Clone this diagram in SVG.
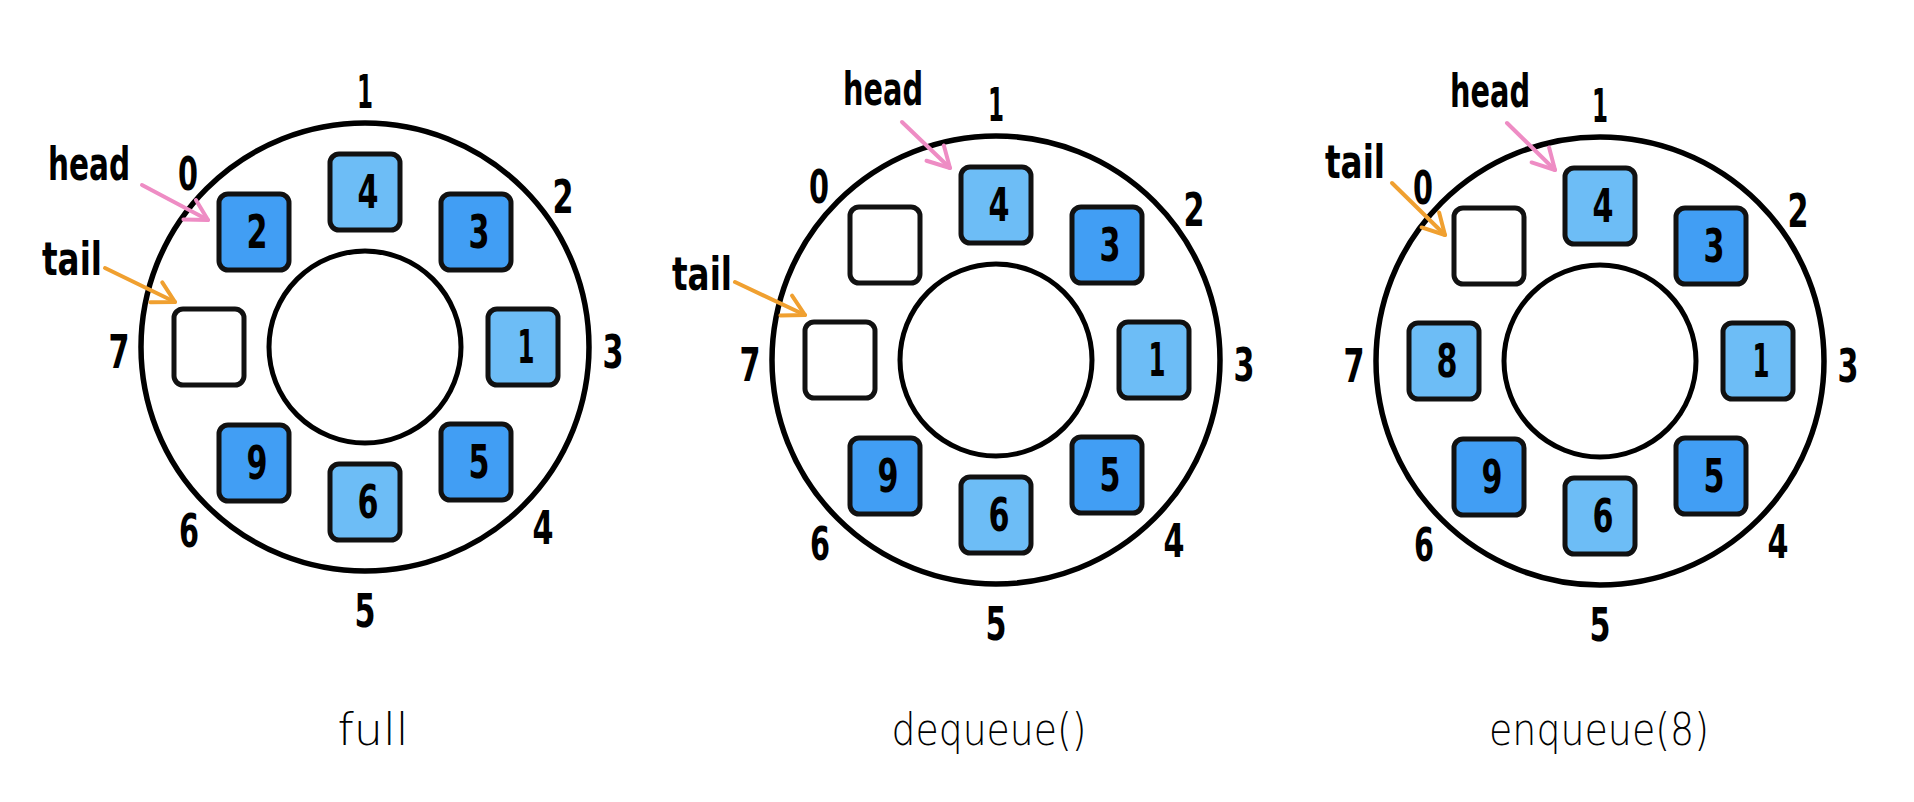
<svg xmlns="http://www.w3.org/2000/svg" width="1914" height="802" viewBox="0 0 1914 802">
<style>
  .ring{fill:none;stroke:#000;stroke-width:5.5}
  .hole{fill:#fff;stroke:#000;stroke-width:5}
  .box{stroke:#111;stroke-width:5}
  .dark{fill:#419ef4}
  .light{fill:#6dbdf6}
  .empty{fill:#fff}
  .val{font-family:"Liberation Sans Narrow","DejaVu Sans Condensed","Liberation Sans",sans-serif;font-weight:bold;font-size:46px;text-anchor:middle;fill:#000}
  .idx{font-family:"Liberation Sans Narrow","DejaVu Sans Condensed","Liberation Sans",sans-serif;font-weight:bold;font-size:46px;text-anchor:middle;fill:#000}
  .ptr{font-family:"Liberation Sans Narrow","DejaVu Sans Condensed","Liberation Sans",sans-serif;font-weight:bold;font-size:46px;fill:#000}
  .cap{font-family:"DejaVu Sans","Liberation Sans",sans-serif;font-weight:200;font-size:44px;text-anchor:middle;fill:#000}
  .head{fill:none;stroke:#ee8cc4;stroke-width:4;stroke-linecap:round}
  .tail{fill:none;stroke:#f0a030;stroke-width:4;stroke-linecap:round}
</style>
<defs>
  <marker id="mh" markerUnits="userSpaceOnUse" markerWidth="30" markerHeight="30" refX="0" refY="0" viewBox="-26 -15 30 30" orient="auto">
    <path d="M-20,-12 L0,0 L-22,11" fill="none" stroke="#ee8cc4" stroke-width="4" stroke-linecap="round" stroke-linejoin="round"/>
  </marker>
  <marker id="mt" markerUnits="userSpaceOnUse" markerWidth="30" markerHeight="30" refX="0" refY="0" viewBox="-26 -15 30 30" orient="auto">
    <path d="M-20,-12 L0,0 L-22,11" fill="none" stroke="#f0a030" stroke-width="4" stroke-linecap="round" stroke-linejoin="round"/>
  </marker>
</defs>
<rect width="1914" height="802" fill="#fff"/>

<!-- Panel 1: full -->
<g id="panel-full" transform="translate(365,347)">
  <circle class="ring" r="224"/>
  <circle class="hole" r="96"/>
  <g id="p1-slot0"><rect class="box dark" x="-146" y="-153" width="70" height="76" rx="9"/><text class="val" x="-108" y="-99" textLength="21" lengthAdjust="spacingAndGlyphs">2</text></g>
  <g id="p1-slot1"><rect class="box light" x="-35" y="-193" width="70" height="76" rx="9"/><text class="val" x="3" y="-139" textLength="21" lengthAdjust="spacingAndGlyphs">4</text></g>
  <g id="p1-slot2"><rect class="box dark" x="76" y="-153" width="70" height="76" rx="9"/><text class="val" x="114" y="-99" textLength="21" lengthAdjust="spacingAndGlyphs">3</text></g>
  <g id="p1-slot3"><rect class="box light" x="123" y="-38" width="70" height="76" rx="9"/><text class="val" x="161" y="16" textLength="17" lengthAdjust="spacingAndGlyphs">1</text></g>
  <g id="p1-slot4"><rect class="box dark" x="76" y="77" width="70" height="76" rx="9"/><text class="val" x="114" y="131" textLength="21" lengthAdjust="spacingAndGlyphs">5</text></g>
  <g id="p1-slot5"><rect class="box light" x="-35" y="117" width="70" height="76" rx="9"/><text class="val" x="3" y="171" textLength="21" lengthAdjust="spacingAndGlyphs">6</text></g>
  <g id="p1-slot6"><rect class="box dark" x="-146" y="78" width="70" height="76" rx="9"/><text class="val" x="-108" y="132" textLength="21" lengthAdjust="spacingAndGlyphs">9</text></g>
  <g id="p1-slot7"><rect class="box empty" x="-191" y="-38" width="70" height="76" rx="9"/></g>
  <g id="p1-index">
    <text class="idx" x="-177" y="-157" textLength="20" lengthAdjust="spacingAndGlyphs">0</text>
    <text class="idx" x="0" y="-239" textLength="16" lengthAdjust="spacingAndGlyphs">1</text>
    <text class="idx" x="198" y="-134" textLength="21" lengthAdjust="spacingAndGlyphs">2</text>
    <text class="idx" x="248" y="21" textLength="21" lengthAdjust="spacingAndGlyphs">3</text>
    <text class="idx" x="178" y="197" textLength="21" lengthAdjust="spacingAndGlyphs">4</text>
    <text class="idx" x="0" y="280" textLength="21" lengthAdjust="spacingAndGlyphs">5</text>
    <text class="idx" x="-176" y="200" textLength="20" lengthAdjust="spacingAndGlyphs">6</text>
    <text class="idx" x="-246" y="21" textLength="21" lengthAdjust="spacingAndGlyphs">7</text>
  </g>
</g>
<g id="p1-head-label"><text class="ptr" x="48" y="180" textLength="82" lengthAdjust="spacingAndGlyphs">head</text></g>
<g id="p1-tail-label"><text class="ptr" x="42" y="275" textLength="60" lengthAdjust="spacingAndGlyphs">tail</text></g>
<g id="p1-caption"><text class="cap" x="373" y="745" textLength="71" lengthAdjust="spacingAndGlyphs">full</text></g>

<!-- Panel 2: dequeue() -->
<g id="panel-dequeue" transform="translate(996,360)">
  <circle class="ring" r="224"/>
  <circle class="hole" r="96"/>
  <g id="p2-slot0"><rect class="box empty" x="-146" y="-153" width="70" height="76" rx="9"/></g>
  <g id="p2-slot1"><rect class="box light" x="-35" y="-193" width="70" height="76" rx="9"/><text class="val" x="3" y="-139" textLength="21" lengthAdjust="spacingAndGlyphs">4</text></g>
  <g id="p2-slot2"><rect class="box dark" x="76" y="-153" width="70" height="76" rx="9"/><text class="val" x="114" y="-99" textLength="21" lengthAdjust="spacingAndGlyphs">3</text></g>
  <g id="p2-slot3"><rect class="box light" x="123" y="-38" width="70" height="76" rx="9"/><text class="val" x="161" y="16" textLength="17" lengthAdjust="spacingAndGlyphs">1</text></g>
  <g id="p2-slot4"><rect class="box dark" x="76" y="77" width="70" height="76" rx="9"/><text class="val" x="114" y="131" textLength="21" lengthAdjust="spacingAndGlyphs">5</text></g>
  <g id="p2-slot5"><rect class="box light" x="-35" y="117" width="70" height="76" rx="9"/><text class="val" x="3" y="171" textLength="21" lengthAdjust="spacingAndGlyphs">6</text></g>
  <g id="p2-slot6"><rect class="box dark" x="-146" y="78" width="70" height="76" rx="9"/><text class="val" x="-108" y="132" textLength="21" lengthAdjust="spacingAndGlyphs">9</text></g>
  <g id="p2-slot7"><rect class="box empty" x="-191" y="-38" width="70" height="76" rx="9"/></g>
  <g id="p2-index">
    <text class="idx" x="-177" y="-157" textLength="20" lengthAdjust="spacingAndGlyphs">0</text>
    <text class="idx" x="0" y="-239" textLength="16" lengthAdjust="spacingAndGlyphs">1</text>
    <text class="idx" x="198" y="-134" textLength="21" lengthAdjust="spacingAndGlyphs">2</text>
    <text class="idx" x="248" y="21" textLength="21" lengthAdjust="spacingAndGlyphs">3</text>
    <text class="idx" x="178" y="197" textLength="21" lengthAdjust="spacingAndGlyphs">4</text>
    <text class="idx" x="0" y="280" textLength="21" lengthAdjust="spacingAndGlyphs">5</text>
    <text class="idx" x="-176" y="200" textLength="20" lengthAdjust="spacingAndGlyphs">6</text>
    <text class="idx" x="-246" y="21" textLength="21" lengthAdjust="spacingAndGlyphs">7</text>
  </g>
</g>
<g id="p2-head-label"><text class="ptr" x="843" y="105" textLength="80" lengthAdjust="spacingAndGlyphs">head</text></g>
<g id="p2-tail-label"><text class="ptr" x="672" y="290" textLength="60" lengthAdjust="spacingAndGlyphs">tail</text></g>
<g id="p2-caption"><text class="cap" x="989" y="745" textLength="195" lengthAdjust="spacingAndGlyphs">dequeue()</text></g>

<!-- Panel 3: enqueue(8) -->
<g id="panel-enqueue" transform="translate(1600,361)">
  <circle class="ring" r="224"/>
  <circle class="hole" r="96"/>
  <g id="p3-slot0"><rect class="box empty" x="-146" y="-153" width="70" height="76" rx="9"/></g>
  <g id="p3-slot1"><rect class="box light" x="-35" y="-193" width="70" height="76" rx="9"/><text class="val" x="3" y="-139" textLength="21" lengthAdjust="spacingAndGlyphs">4</text></g>
  <g id="p3-slot2"><rect class="box dark" x="76" y="-153" width="70" height="76" rx="9"/><text class="val" x="114" y="-99" textLength="21" lengthAdjust="spacingAndGlyphs">3</text></g>
  <g id="p3-slot3"><rect class="box light" x="123" y="-38" width="70" height="76" rx="9"/><text class="val" x="161" y="16" textLength="17" lengthAdjust="spacingAndGlyphs">1</text></g>
  <g id="p3-slot4"><rect class="box dark" x="76" y="77" width="70" height="76" rx="9"/><text class="val" x="114" y="131" textLength="21" lengthAdjust="spacingAndGlyphs">5</text></g>
  <g id="p3-slot5"><rect class="box light" x="-35" y="117" width="70" height="76" rx="9"/><text class="val" x="3" y="171" textLength="21" lengthAdjust="spacingAndGlyphs">6</text></g>
  <g id="p3-slot6"><rect class="box dark" x="-146" y="78" width="70" height="76" rx="9"/><text class="val" x="-108" y="132" textLength="21" lengthAdjust="spacingAndGlyphs">9</text></g>
  <g id="p3-slot7"><rect class="box light" x="-191" y="-38" width="70" height="76" rx="9"/><text class="val" x="-153" y="16" textLength="21" lengthAdjust="spacingAndGlyphs">8</text></g>
  <g id="p3-index">
    <text class="idx" x="-177" y="-157" textLength="20" lengthAdjust="spacingAndGlyphs">0</text>
    <text class="idx" x="0" y="-239" textLength="16" lengthAdjust="spacingAndGlyphs">1</text>
    <text class="idx" x="198" y="-134" textLength="21" lengthAdjust="spacingAndGlyphs">2</text>
    <text class="idx" x="248" y="21" textLength="21" lengthAdjust="spacingAndGlyphs">3</text>
    <text class="idx" x="178" y="197" textLength="21" lengthAdjust="spacingAndGlyphs">4</text>
    <text class="idx" x="0" y="280" textLength="21" lengthAdjust="spacingAndGlyphs">5</text>
    <text class="idx" x="-176" y="200" textLength="20" lengthAdjust="spacingAndGlyphs">6</text>
    <text class="idx" x="-246" y="21" textLength="21" lengthAdjust="spacingAndGlyphs">7</text>
  </g>
</g>
<g id="p3-head-label"><text class="ptr" x="1450" y="107" textLength="80" lengthAdjust="spacingAndGlyphs">head</text></g>
<g id="p3-tail-label"><text class="ptr" x="1325" y="178" textLength="60" lengthAdjust="spacingAndGlyphs">tail</text></g>
<g id="p3-caption"><text class="cap" x="1599" y="745" textLength="220" lengthAdjust="spacingAndGlyphs">enqueue(8)</text></g>

<!-- Connectors: head / tail pointers -->
<g id="connectors">
  <path class="head" d="M142,185 L208,220" marker-end="url(#mh)"/>
  <path class="tail" d="M105,268 L175,302" marker-end="url(#mt)"/>
  <path class="head" d="M902,122 L950,168" marker-end="url(#mh)"/>
  <path class="tail" d="M735,282 L805,315" marker-end="url(#mt)"/>
  <path class="head" d="M1507,123 L1555,170" marker-end="url(#mh)"/>
  <path class="tail" d="M1392,183 L1445,235" marker-end="url(#mt)"/>
</g>
</svg>
